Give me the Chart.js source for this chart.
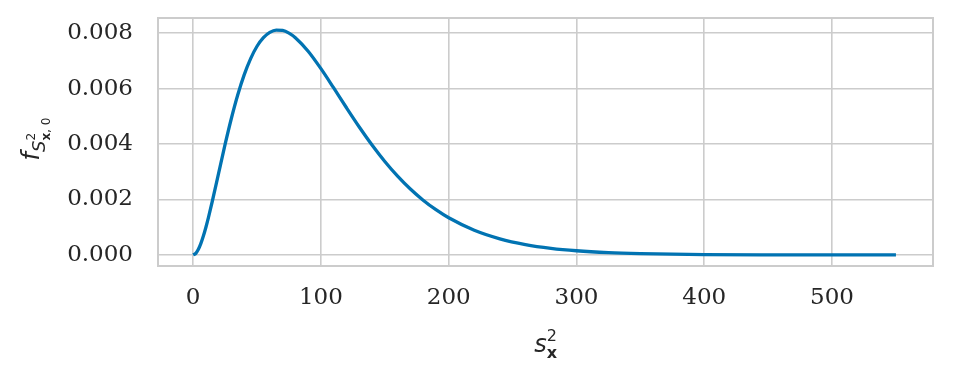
<!DOCTYPE html>
<html>
<head>
<meta charset="utf-8">
<script src="https://cdn.jsdelivr.net/npm/chart.js@4/dist/chart.umd.min.js"></script>
<style>
  html, body { margin: 0; padding: 0; background: #fff; }
  #wrap { width: 953px; height: 379px; }
</style>
</head>
<body>
<div id="wrap"><canvas id="chart" width="953" height="379"></canvas></div>
<script>
// sample variance values (x) and density (y)
const sVals = [0, 2, 4, 6, 8, 10, 12, 15, 20, 25, 30, 35, 40, 45, 50, 55, 60, 65, 70, 75, 80, 90, 100,
    110, 120, 130, 140, 150, 160, 170, 180, 190, 200, 220, 240, 260, 280, 300,
    325, 350, 375, 400, 450, 500, 550];
const density = [0, 0.000051, 0.000192, 0.000406, 0.000680, 0.001000, 0.001356, 0.001937,
    0.002964, 0.003986, 0.004940, 0.005787,
    0.006506, 0.007086, 0.007530, 0.007842, 0.008033, 0.008115, 0.008101, 0.008004,
    0.007838, 0.007349, 0.006721, 0.006025, 0.005311, 0.004618, 0.003968, 0.003374,
    0.002844, 0.002379, 0.001976, 0.001631, 0.001339, 0.000889, 0.000581, 0.000374,
    0.000238, 0.000150, 0.000083, 0.000046, 0.000025, 0.000013, 0.000004, 0.000001, 0.0000003];

const xTicks = [0, 100, 200, 300, 400, 500];
const yTicks = [0, 0.002, 0.004, 0.006, 0.008];

const gridColor = '#cccccc';
const tickFont = { family: "'DejaVu Serif', serif", size: 23 };

// draw a run of text pieces (with sub/superscripts) centred at (cx, cy)
function drawPieces(ctx, pieces, cx, cy) {
    let w = 0;
    pieces.forEach(p => {
        ctx.font = p.font;
        p.w = ctx.measureText(p.t).width;
        if (!p.stack) w += p.w;
    });
    let x = cx - w / 2;
    let lastX = x;
    ctx.textBaseline = 'alphabetic';
    ctx.textAlign = 'left';
    pieces.forEach(p => {
        ctx.font = p.font;
        const px = p.stack ? lastX : x;
        ctx.fillText(p.t, px, cy + p.dy);
        if (!p.stack) { lastX = x; x += p.w; }
    });
}

const axisTitles = {
    id: 'axisTitles',
    afterDraw(chart) {
        const ctx = chart.ctx;
        const area = chart.chartArea;
        ctx.save();
        ctx.fillStyle = '#262626';
        // x title: s^2 with bold x subscript
        drawPieces(ctx, [
            { t: 's', font: "italic 24px 'DejaVu Sans'", dy: 0 },
            { t: '2', font: "16px 'DejaVu Sans'", dy: -11 },
            { t: 'x', font: "bold 16px 'DejaVu Sans'", dy: 6, stack: true }
        ], (area.left + area.right) / 2, 352);

        // y title: f_{S^2_x,0}, rotated
        ctx.translate(39, 139);
        ctx.rotate(-Math.PI / 2);
        drawPieces(ctx, [
            { t: 'f', font: "italic 24px 'DejaVu Sans'", dy: 0 },
            { t: 'S', font: "italic 18px 'DejaVu Sans'", dy: 6 },
            { t: '2', font: "12px 'DejaVu Sans'", dy: -4 },
            { t: 'x', font: "bold 12px 'DejaVu Sans'", dy: 11, stack: true },
            { t: ', 0', font: "12px 'DejaVu Sans'", dy: 11 }
        ], 0, 0);
        ctx.restore();
    }
};

new Chart(document.getElementById('chart'), {
    type: 'line',
    data: {
        datasets: [{
            data: sVals.map((s, i) => ({ x: s, y: density[i] })),
            borderColor: '#0173b2',
            borderWidth: 3.3,
            pointRadius: 0,
            cubicInterpolationMode: 'monotone',
            fill: false
        }]
    },
    options: {
        responsive: false,
        animation: false,
        layout: { padding: { left: 0, right: 20, top: 18, bottom: 0 } },
        plugins: { legend: { display: false }, tooltip: { enabled: false } },
        scales: {
            x: {
                type: 'linear',
                min: -27.5,
                max: 579,
                afterBuildTicks: s => { s.ticks = xTicks.map(v => ({ value: v })); },
                afterFit: s => { s.height = 113; s.paddingLeft = 0; s.paddingRight = 0; },
                grid: { color: gridColor, lineWidth: 1.6, drawTicks: false },
                border: { color: gridColor, width: 2 },
                ticks: { font: tickFont, color: '#262626', padding: 18, maxRotation: 0 }
            },
            y: {
                min: -0.0004,
                max: 0.00855,
                afterBuildTicks: s => { s.ticks = yTicks.map(v => ({ value: v })); },
                afterFit: s => { s.width = 158; s.paddingTop = 0; s.paddingBottom = 0; },
                grid: { color: gridColor, lineWidth: 1.6, drawTicks: false },
                border: { color: gridColor, width: 2 },
                ticks: {
                    font: tickFont, color: '#262626', padding: 25,
                    callback: v => v.toFixed(3)
                }
            }
        }
    },
    plugins: [axisTitles, {
        id: 'frame',
        afterDraw(chart) {
            const { ctx, chartArea: a } = chart;
            ctx.save();
            ctx.strokeStyle = gridColor;
            ctx.lineWidth = 2;
            ctx.strokeRect(a.left, a.top, a.right - a.left, a.bottom - a.top);
            ctx.restore();
        }
    }]
});
</script>
</body>
</html>
